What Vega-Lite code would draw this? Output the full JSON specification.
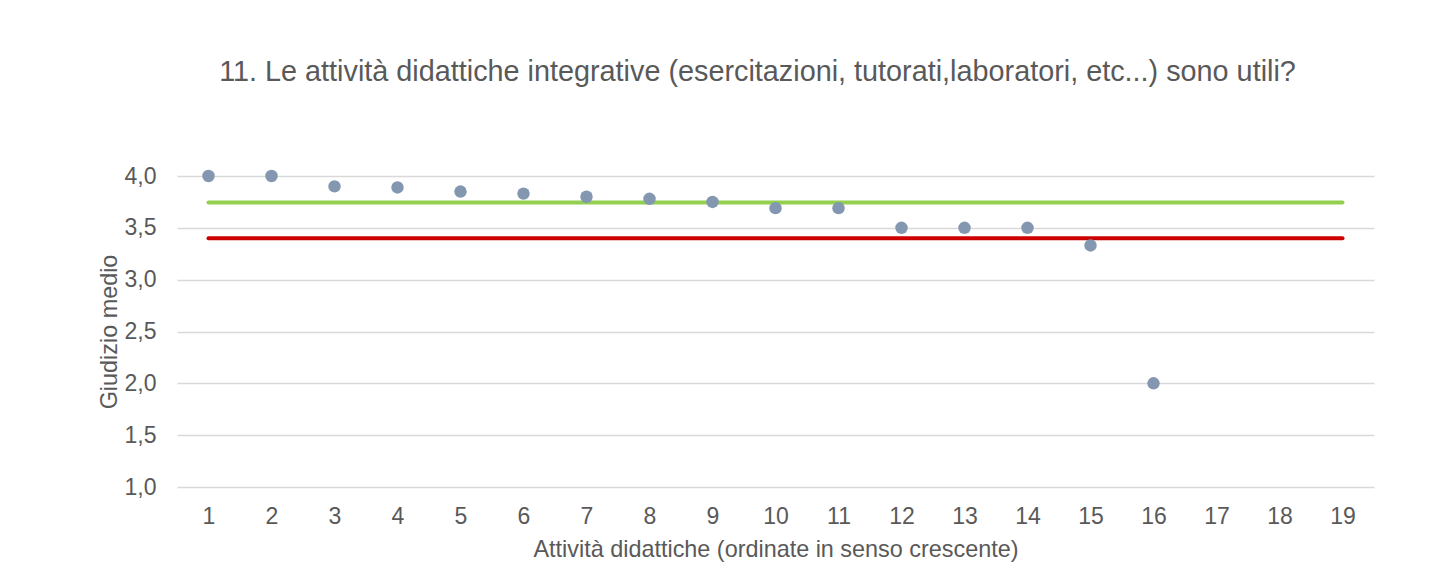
{
  "$schema": "https://vega.github.io/schema/vega-lite/v6.json",
  "autosize": {"type": "none"},
  "width": 1197,
  "height": 311,
  "padding": {"left": 177, "top": 176, "right": 60, "bottom": 99},
  "background": "white",
  "title": {
    "text": "11. Le attività didattiche integrative (esercitazioni, tutorati,laboratori, etc...) sono utili?",
    "anchor": "middle",
    "dx": -18,
    "offset": 78,
    "font": "Liberation Sans",
    "fontSize": 28.8,
    "fontWeight": "normal",
    "color": "#595959"
  },
  "config": {
    "view": {"stroke": null},
    "font": "Liberation Sans"
  },
  "datasets": {
    "punti": [
      {"attivita": 1, "giudizio": 4.0},
      {"attivita": 2, "giudizio": 4.0},
      {"attivita": 3, "giudizio": 3.9},
      {"attivita": 4, "giudizio": 3.89},
      {"attivita": 5, "giudizio": 3.85},
      {"attivita": 6, "giudizio": 3.83},
      {"attivita": 7, "giudizio": 3.8},
      {"attivita": 8, "giudizio": 3.78},
      {"attivita": 9, "giudizio": 3.75},
      {"attivita": 10, "giudizio": 3.69},
      {"attivita": 11, "giudizio": 3.69},
      {"attivita": 12, "giudizio": 3.5},
      {"attivita": 13, "giudizio": 3.5},
      {"attivita": 14, "giudizio": 3.5},
      {"attivita": 15, "giudizio": 3.33},
      {"attivita": 16, "giudizio": 2.0}
    ],
    "soglie": [
      {"serie": "verde", "attivita": 1, "valore": 3.745},
      {"serie": "verde", "attivita": 19, "valore": 3.745},
      {"serie": "rossa", "attivita": 1, "valore": 3.4},
      {"serie": "rossa", "attivita": 19, "valore": 3.4}
    ]
  },
  "encoding": {
    "x": {
      "field": "attivita",
      "type": "quantitative",
      "scale": {"domain": [0.5, 19.5], "nice": false, "zero": false},
      "axis": {
        "values": [1,2,3,4,5,6,7,8,9,10,11,12,13,14,15,16,17,18,19],
        "title": "Attività didattiche (ordinate in senso crescente)",
        "grid": false,
        "domain": false,
        "ticks": false,
        "labelPadding": 18,
        "labelFontSize": 23,
        "labelColor": "#595959",
        "labelFont": "Liberation Sans",
        "titleFont": "Liberation Sans",
        "titleFontSize": 23.4,
        "titleFontWeight": "normal",
        "titleColor": "#595959",
        "titlePadding": 10
      }
    },
    "y": {
      "type": "quantitative",
      "scale": {"domain": [1, 4], "nice": false, "zero": false},
      "axis": {
        "values": [1, 1.5, 2, 2.5, 3, 3.5, 4],
        "labelExpr": "replace(format(datum.value, '.1f'), '.', ',')",
        "title": "Giudizio medio",
        "grid": true,
        "gridColor": "#d9d9d9",
        "gridWidth": 1.5,
        "domain": false,
        "ticks": false,
        "labelPadding": 21,
        "labelFontSize": 23,
        "labelColor": "#595959",
        "labelFont": "Liberation Sans",
        "titleFont": "Liberation Sans",
        "titleFontSize": 23.4,
        "titleFontWeight": "normal",
        "titleColor": "#595959",
        "titlePadding": 3
      }
    }
  },
  "layer": [
    {
      "data": {"name": "soglie"},
      "mark": {"type": "line", "strokeWidth": 4, "strokeCap": "round"},
      "encoding": {
        "y": {"field": "valore", "type": "quantitative"},
        "color": {
          "field": "serie",
          "type": "nominal",
          "scale": {"domain": ["verde", "rossa"], "range": ["#92D050", "#CC0000"]},
          "legend": null
        }
      }
    },
    {
      "data": {"name": "punti"},
      "mark": {"type": "circle", "size": 155, "opacity": 1, "color": "#8497B0"},
      "encoding": {
        "y": {"field": "giudizio", "type": "quantitative"}
      }
    }
  ]
}
